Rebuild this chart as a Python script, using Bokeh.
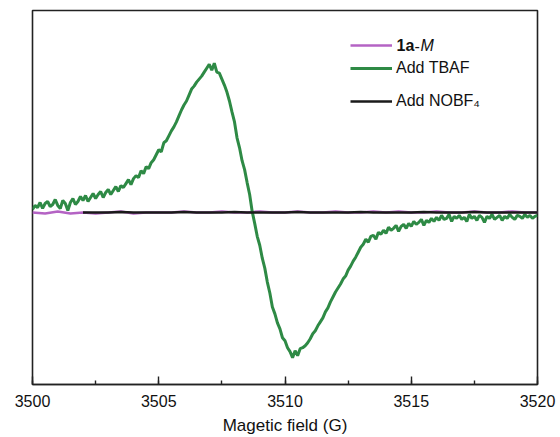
import numpy as np
from bokeh.plotting import figure
from bokeh.models import Range1d, SingleIntervalTicker, Legend, LegendItem, Label
from bokeh.embed import file_html
from bokeh.resources import INLINE

# ---- data (EPR derivative signals, arbitrary units) ----
field_start = 3500.0
field_end = 3520.0
nobf4_start = 3502.0

tbaf_signal = [
    3, 7, 5, 10, 4, 9, 11, 6, 8, 13,
    7, 4, 12, 9, 2, 10, 14, 8, 11, 16,
    12, 17, 11, 15, 19, 14, 18, 21, 15, 20,
    23, 18, 22, 26, 21, 27, 25, 29, 33, 28,
    34, 37, 35, 42, 39, 46, 44, 50, 53, 58,
    63, 61, 70, 72, 77, 82, 86, 91, 97, 103,
    108, 112, 118, 124, 127, 131, 134, 137, 141, 145,
    149, 143, 150, 141, 140, 134, 128, 121, 112, 101,
    91, 75, 65, 52, 43, 30, 18, 1, -11, -24,
    -33, -46, -56, -70, -81, -95, -102, -111, -117, -126,
    -129, -136, -140, -146, -139, -144, -137, -136, -134, -131,
    -127, -122, -119, -114, -110, -106, -100, -96, -90, -85,
    -80, -76, -72, -67, -64, -58, -54, -49, -45, -40,
    -35, -32, -27, -30, -24, -23, -27, -20, -22, -18,
    -21, -15, -18, -16, -13, -19, -14, -12, -16, -11,
    -14, -9, -12, -10, -7, -13, -8, -10, -6, -9,
    -5, -8, -3, -7, -6, -2, -9, -4, -6, -3,
    -7, -5, -9, -2, -6, -4, -8, -3, -5, -10,
    -4, -6, -2, -7, -5, -3, -8, -4, -6, -2,
    -5, -7, -3, -4, -6, -2, -5, -3, -6, -4,
    -3,
]

m_signal = [
    0, -1, 1, -1, 0, -1, 0, 1, -1, 0,
    0, 0, 1, 0, 0, 1, 0, 0, 1, 0,
    0, 1, 0, 0, 1, 0, 0, 1, 0, 1,
    0, 0, 1, 0, 0, 1, 0, 0, 1, 0,
    0,
]

nobf4_signal = [
    0, 0, 0, 0.5, 0, 0, 0, 0, 0.5, 0,
    0, 0, 0.5, 0, 0, 0, 0, 0.5, 0, 0,
    0, 0, 0.5, 0, 0, 0, 0, 0.5, 0, 0,
    0, 0.5, 0, 0, 0, 0, 0,
]

x_ticks = [3500, 3505, 3510, 3515, 3520]

tbaf_field = np.linspace(field_start, field_end, len(tbaf_signal))
m_field = np.linspace(field_start, field_end, len(m_signal))
nobf4_field = np.linspace(nobf4_start, field_end, len(nobf4_signal))

FONT = "Liberation Sans"

p = figure(width=560, height=437, output_backend="svg", toolbar_location=None,
           x_range=Range1d(field_start, field_end), y_range=Range1d(-173, 203),
           y_axis_location=None,
           min_border_left=32, min_border_right=23, min_border_top=10, min_border_bottom=51)

p.grid.visible = False
p.outline_line_color = "#222222"
p.outline_line_width = 1.6
p.background_fill_color = "white"
p.border_fill_color = "white"

ax = p.xaxis[0]
ax.ticker = SingleIntervalTicker(interval=5, num_minor_ticks=2)
ax.axis_line_color = "#222222"
ax.axis_line_width = 1.6
ax.major_tick_in = 8
ax.major_tick_out = 0
ax.minor_tick_in = 4
ax.minor_tick_out = 0
ax.major_tick_line_color = "#222222"
ax.minor_tick_line_color = "#222222"
ax.major_tick_line_width = 1.4
ax.minor_tick_line_width = 1.4
ax.major_label_text_font = FONT
ax.major_label_text_font_size = "16px"
ax.major_label_text_color = "#111111"
ax.major_label_standoff = 10
ax.axis_label = "Magetic field (G)"
ax.axis_label_text_font = FONT
ax.axis_label_text_font_size = "17px"
ax.axis_label_text_font_style = "normal"
ax.axis_label_text_color = "#111111"
ax.axis_label_standoff = 6

r_m = p.line(m_field, m_signal, line_color="#b463c4", line_width=2.5)
r_t = p.line(tbaf_field, tbaf_signal, line_color="#2e8a45", line_width=3)
r_n = p.line(nobf4_field, nobf4_signal, line_color="#1a1a1a", line_width=2.5)

def make_legend(items, loc):
    lg = Legend(items=items, location=loc, orientation="vertical",
                border_line_color=None, background_fill_alpha=0,
                padding=0, margin=0, spacing=3,
                glyph_width=42, glyph_height=20, label_height=20,
                label_standoff=4, label_text_font=FONT,
                label_text_font_size="16px", label_text_color="#111111",
                label_text_baseline="middle")
    return lg

leg1 = make_legend([LegendItem(label=" ", renderers=[r_m]),
                    LegendItem(label="Add TBAF", renderers=[r_t])], (318, 306))
leg2 = make_legend([LegendItem(label="Add NOBF\u2084", renderers=[r_n])], (318, 273))
p.add_layout(leg1)
p.add_layout(leg2)

for txt, xx, style in [("1a", 364, "bold"), ("-", 382, "normal"), ("M", 388, "italic")]:
    p.add_layout(Label(x=xx, y=339, x_units="screen", y_units="screen", text=txt,
                       text_font=FONT, text_font_size="16px", text_font_style=style,
                       text_color="#111111", text_baseline="middle", text_align="left"))

open("out.html", "w").write(file_html(p, INLINE))
